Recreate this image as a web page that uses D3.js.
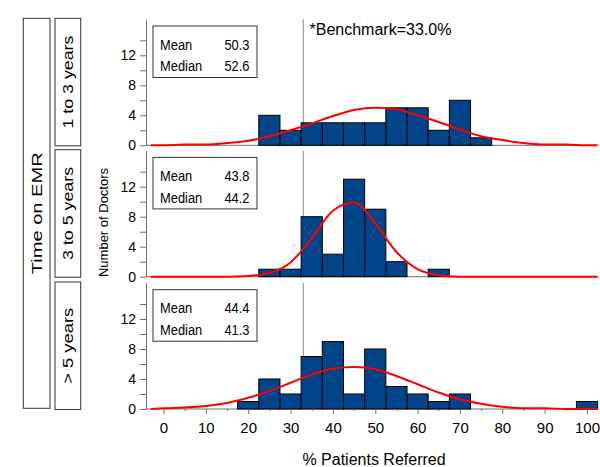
<!DOCTYPE html>
<html>
<head>
<meta charset="utf-8">
<script src="https://cdn.jsdelivr.net/npm/d3@7"></script>
<style>
  html, body { margin: 0; padding: 0; background: #fff; }
  svg { display: block; font-family: "Liberation Sans", Arial, sans-serif; }
</style>
</head>
<body>
<svg id="chart" width="600" height="467"></svg>
<script>
// ---------- data ----------
const binCenters = [20, 25, 30, 35, 40, 45, 50, 55, 60, 65, 70, 75, 80, 85, 90, 95, 100];
const panelLabels = ["1 to 3 years", "3 to 5 years", "> 5 years"];
const counts1 = [0, 4, 2, 3, 3, 3, 3, 5, 5, 2, 6, 1, 0, 0, 0, 0, 0];
const counts2 = [0, 1, 1, 8, 3, 13, 9, 2, 0, 1, 0, 0, 0, 0, 0, 0, 0];
const counts3 = [1, 4, 2, 7, 9, 2, 8, 3, 2, 1, 2, 0, 0, 0, 0, 0, 1];
const means = ["50.3", "43.8", "44.4"];
const medians = ["52.6", "44.2", "41.3"];
// fitted-curve heights
const curveX = [-3, 0, 5, 10, 15, 20, 25, 30, 35, 40, 45, 50, 55, 60, 65, 70, 75, 80, 85, 90, 95, 100, 102.5];
const curve1 = [0, 0, 0.1, 0.1, 0.3, 0.6, 1.2, 2.0, 2.9, 3.9, 4.7, 5.0, 4.8, 4.0, 3.1, 2.1, 1.2, 0.7, 0.3, 0.1, 0.1, 0, 0];
const curve2 = [0, 0, 0, 0, 0, 0.1, 0.5, 1.9, 5.1, 8.8, 9.9, 7.1, 3.3, 1.0, 0.2, 0, 0, 0, 0, 0, 0, 0, 0];
const curve3 = [0, 0.1, 0.2, 0.4, 0.8, 1.5, 2.4, 3.5, 4.6, 5.4, 5.6, 5.3, 4.4, 3.3, 2.2, 1.3, 0.7, 0.3, 0.1, 0.1, 0, 0, 0];
const benchmark = 33.0;
const xTicks = [0, 10, 20, 30, 40, 50, 60, 70, 80, 90, 100];
const xMinorTicks = [5, 15, 25, 35, 45, 55, 65, 75, 85, 95];
const yTicks = [0, 2, 4, 6, 8, 10, 12, 14];
const yLabelTicks = [0, 4, 8, 12];

const countsAll = [counts1, counts2, counts3];
const curvesAll = [curve1, curve2, curve3];

// ---------- layout ----------
const svg = d3.select("#chart");
const x = d3.scaleLinear().domain([0, 100]).range([163.5, 587]);
const plotLeft = 146, plotRight = 598;
const baselines = [145.3, 276.7, 409];
const panelH = 126;
const yMax = 16.8;
const barFill = "#00448a";
const axisColor = "#6e6e6e";

baselines.forEach((base, i) => {
  const y = d3.scaleLinear().domain([0, yMax]).range([base, base - panelH]);
  const g = svg.append("g");

  // benchmark line
  g.append("line")
    .attr("x1", x(benchmark)).attr("x2", x(benchmark))
    .attr("y1", base - panelH).attr("y2", base)
    .attr("stroke", "#8a8a8a").attr("stroke-width", 1);

  // baseline
  g.append("line")
    .attr("x1", plotLeft).attr("x2", plotRight)
    .attr("y1", base).attr("y2", base)
    .attr("stroke", axisColor).attr("stroke-width", 1);

  // bars
  const data = binCenters.map((c, k) => ({ c, v: countsAll[i][k] })).filter(d => d.v > 0);
  g.selectAll("rect.bar").data(data).enter().append("rect")
    .attr("class", "bar")
    .attr("x", d => x(d.c - 2.5))
    .attr("width", d => x(d.c + 2.5) - x(d.c - 2.5))
    .attr("y", d => y(d.v))
    .attr("height", d => y(0) - y(d.v))
    .attr("fill", barFill)
    .attr("stroke", "#000").attr("stroke-width", 1);

  // fitted curve
  const line = d3.line()
    .x(d => x(d[0])).y(d => y(d[1]))
    .curve(d3.curveMonotoneX);
  g.append("path")
    .datum(curveX.map((cx, k) => [cx, curvesAll[i][k]]))
    .attr("d", line)
    .attr("fill", "none").attr("stroke", "#ff0000").attr("stroke-width", 2);

  // y axis
  const yAxis = d3.axisLeft(y).tickValues(yTicks).tickSize(6).tickSizeOuter(0)
    .tickFormat(d => yLabelTicks.includes(d) ? d : "");
  const ya = g.append("g").attr("transform", `translate(${plotLeft},0)`).call(yAxis);
  ya.select(".domain").attr("stroke", axisColor);
  ya.selectAll(".tick line").attr("stroke", axisColor);
  ya.selectAll(".tick text").attr("font-size", 14).attr("fill", "#000")
    .attr("font-family", "Liberation Sans, Arial, sans-serif").attr("x", -10);

  // stats box
  const bx = 153, bw = 104, bt = base - 119.3, bh = 51.5;
  g.append("rect").attr("x", bx).attr("y", bt).attr("width", bw).attr("height", bh)
    .attr("fill", "#fff").attr("stroke", "#333").attr("stroke-width", 1);
  const rows = [["Mean", means[i], base - 95.6], ["Median", medians[i], base - 74]];
  rows.forEach(r => {
    g.append("text").attr("transform", `translate(160,${r[2]}) scale(0.86,1)`)
      .attr("font-size", 15).attr("fill", "#000").text(r[0]);
    g.append("text").attr("transform", `translate(249.5,${r[2]}) scale(0.86,1)`)
      .attr("text-anchor", "end").attr("font-size", 15).attr("fill", "#000").text(r[1]);
  });

  // left panel label box
  const lt = base - panelH - 1, lb = base + 0.5;
  g.append("rect").attr("x", 55).attr("y", lt).attr("width", 25.7).attr("height", lb - lt)
    .attr("fill", "#fff").attr("stroke", "#333").attr("stroke-width", 1);
  const labLen = [93, 93, 76][i];
  g.append("text")
    .attr("transform", `translate(73,${(lt + lb) / 2}) rotate(-90)`)
    .attr("text-anchor", "middle").attr("font-size", 15)
    .attr("textLength", labLen).attr("lengthAdjust", "spacingAndGlyphs")
    .attr("fill", "#000").text(panelLabels[i]);
});

// x axis (bottom panel)
const xb = baselines[2];
const xAxis = d3.axisBottom(x).tickValues(xTicks).tickSize(5).tickSizeOuter(0);
const xa = svg.append("g").attr("transform", `translate(0,${xb})`).call(xAxis);
xa.select(".domain").remove();
xa.selectAll(".tick line").attr("stroke", axisColor);
xa.selectAll(".tick text").attr("font-size", 15).attr("fill", "#000")
  .attr("font-family", "Liberation Sans, Arial, sans-serif").attr("y", 13);
const xm = d3.axisBottom(x).tickValues(xMinorTicks).tickSize(2).tickFormat("").tickSizeOuter(0);
const xma = svg.append("g").attr("transform", `translate(0,${xb})`).call(xm);
xma.select(".domain").remove();
xma.selectAll(".tick line").attr("stroke", axisColor);

// benchmark label
svg.append("text").attr("x", 309.5).attr("y", 35).attr("font-size", 16).attr("fill", "#000")
  .text("*Benchmark=" + benchmark.toFixed(1) + "%");

// axis titles
svg.append("text").attr("x", 374).attr("y", 465).attr("text-anchor", "middle")
  .attr("font-size", 16).attr("fill", "#000").text("% Patients Referred");
svg.append("text").attr("transform", "translate(108,222.5) rotate(-90)")
  .attr("text-anchor", "middle").attr("font-size", 13).attr("fill", "#000").text("Number of Doctors");

// outer group box
svg.append("rect").attr("x", 23.3).attr("y", 18.3).attr("width", 26.7).attr("height", 390)
  .attr("fill", "#fff").attr("stroke", "#333").attr("stroke-width", 1);
svg.append("text").attr("transform", "translate(42,213.3) rotate(-90)")
  .attr("text-anchor", "middle").attr("font-size", 15.5)
  .attr("textLength", 122).attr("lengthAdjust", "spacingAndGlyphs")
  .attr("fill", "#000").text("Time on EMR");
</script>
</body>
</html>
